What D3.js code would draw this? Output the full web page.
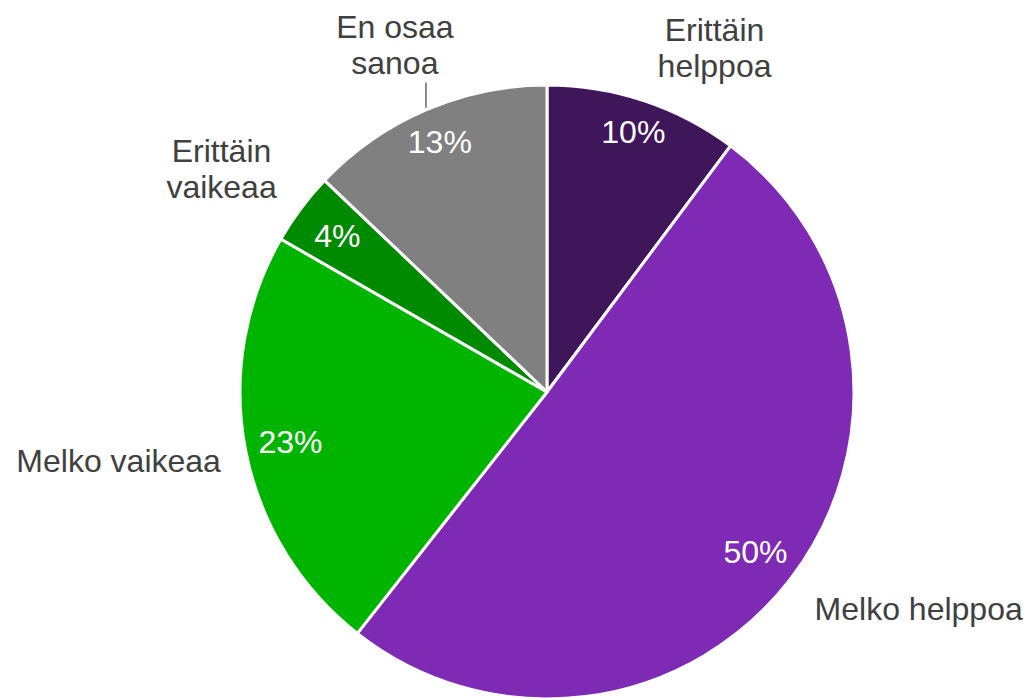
<!DOCTYPE html>
<html>
<head>
<meta charset="utf-8">
<script src="https://cdn.jsdelivr.net/npm/d3@7"></script>
<style>
  body { margin: 0; background: #fff; }
  svg { display: block; font-family: "Liberation Sans", Arial, sans-serif; }
</style>
</head>
<body>
<svg width="1030" height="698"></svg>
<script>
// data (shares in percent, clockwise from 12 o'clock)
var categories = ["Erittäin helppoa", "Melko helppoa", "Melko vaikeaa", "Erittäin vaikeaa", "En osaa sanoa"];
var values = [10.2, 50.4, 22.7, 3.8, 12.9];
var valueLabels = ["10%", "50%", "23%", "4%", "13%"];
var labelLines = [["Erittäin", "helppoa"], ["Melko helppoa"], ["Melko vaikeaa"], ["Erittäin", "vaikeaa"], ["En osaa", "sanoa"]];
var colors = ["#40165a", "#7f2ab5", "#00b400", "#008a00", "#808080"];
var withLeader = ["En osaa sanoa"];

var width = 1030, height = 698;
var cx = 547, cy = 392, radius = 307;
var fontSize = 32, lineGap = 36, capH = 23;
// small hand tweaks of the outside labels, like dragging them in the editor
var labelNudge = [[6, 7], [4, -3], [0, -6], [-4, 12], [6, 0]];

var svg = d3.select('svg');
var g = svg.append('g').attr('transform', 'translate(' + cx + ',' + cy + ')');

var pie = d3.pie().sort(null).value(d => d);
var arcs = pie(values);

var arc = d3.arc().innerRadius(0).outerRadius(radius);

g.selectAll('path.slice')
  .data(arcs)
  .enter()
  .append('path')
  .attr('class', 'slice')
  .attr('d', arc)
  .attr('fill', (d, i) => colors[i])
  .attr('stroke', '#fff')
  .attr('stroke-width', 3)
  .attr('stroke-linejoin', 'round');

function clamp(v) { return Math.max(-1, Math.min(1, v)); }

// percentages inside: outer edge of the label box sits near radius - 12
g.selectAll('text.pct')
  .data(arcs)
  .enter()
  .append('text')
  .attr('class', 'pct')
  .attr('text-anchor', 'middle')
  .attr('dy', '0.35em')
  .attr('fill', '#fff')
  .style('font-size', fontSize + 'px')
  .text((d, i) => valueLabels[i])
  .attr('transform', function(d, i) {
    var mid = (d.startAngle + d.endAngle) / 2;
    var s = Math.sin(mid), c = Math.cos(mid);
    var w = this.getComputedTextLength();
    // thin slices keep their label a bit further in
    var inset = (d.endAngle - d.startAngle) < 0.3 ? 20 : 12;
    var r = radius - inset - (w / 2 * Math.abs(s) + capH / 2 * Math.abs(c));
    return 'translate(' + (r * s) + ',' + (-r * c) + ')';
  });

// category labels outside
var gap = 25;
arcs.forEach(function(d, i) {
  var mid = (d.startAngle + d.endAngle) / 2;
  var s = Math.sin(mid), c = Math.cos(mid);
  var lead = withLeader.indexOf(categories[i]) >= 0;

  var t = g.append('text')
    .attr('class', 'cat')
    .attr('text-anchor', 'middle')
    .attr('fill', '#404040')
    .style('font-size', fontSize + 'px');
  labelLines[i].forEach(function(line, j) {
    t.append('tspan').attr('x', 0).attr('dy', j === 0 ? 0 : lineGap).text(line);
  });

  var bb = t.node().getBBox();
  var rr = radius + (lead ? 35 : gap);
  var px = rr * s, py = -rr * c;
  // box corner nearest the centre sits on the ray; moved labels are centred instead
  var fx = lead ? s : clamp(s / 0.3);
  var fy = lead ? c : clamp(c / 0.3);
  var tx = px + bb.width / 2 * fx + labelNudge[i][0];
  var ty = py - bb.height / 2 * fy + labelNudge[i][1];
  var dx = tx - (bb.x + bb.width / 2);
  var dy = ty - (bb.y + bb.height / 2);
  t.attr('transform', 'translate(' + dx + ',' + dy + ')');

  if (lead) {
    var ex = radius * s, ey = -radius * c;
    g.append('line')
      .attr('x1', ex).attr('y1', ey - 2)
      .attr('x2', ex).attr('y2', bb.y + bb.height + dy + 2)
      .attr('stroke', '#404040')
      .attr('stroke-width', 1.2);
  }
});
</script>
</body>
</html>
